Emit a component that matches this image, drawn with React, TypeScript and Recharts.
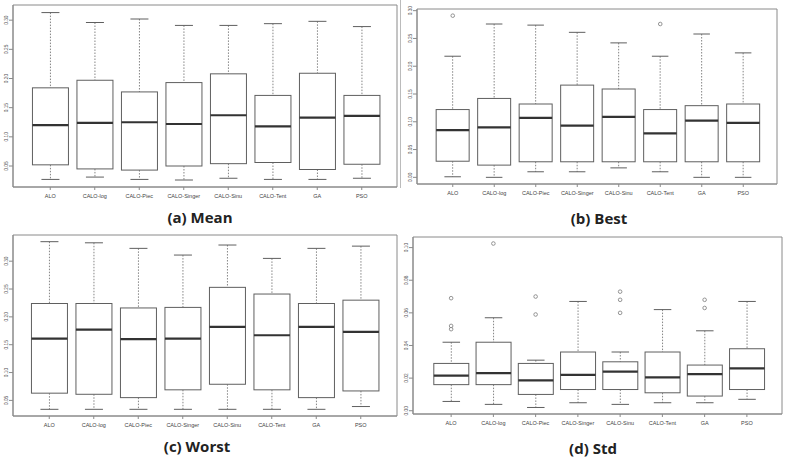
import { ComposedChart, Bar, Scatter, XAxis, YAxis, CartesianGrid } from "recharts";

const algorithms = [
  "ALO",
  "CALO-log",
  "CALO-Piec",
  "CALO-Singer",
  "CALO-Sinu",
  "CALO-Tent",
  "GA",
  "PSO",
];

// each row: [lower whisker, Q1, median, Q3, upper whisker]
const meanStats = [
  [0.027, 0.052, 0.12, 0.184, 0.313],
  [0.031, 0.045, 0.124, 0.197, 0.296],
  [0.027, 0.043, 0.125, 0.177, 0.302],
  [0.026, 0.05, 0.122, 0.193, 0.291],
  [0.029, 0.054, 0.137, 0.208, 0.291],
  [0.027, 0.056, 0.118, 0.171, 0.294],
  [0.027, 0.044, 0.133, 0.209, 0.298],
  [0.029, 0.053, 0.136, 0.171, 0.289],
];
const bestStats = [
  [0.001, 0.029, 0.085, 0.122, 0.218],
  [0.0, 0.022, 0.09, 0.142, 0.276],
  [0.01, 0.028, 0.107, 0.132, 0.274],
  [0.01, 0.028, 0.093, 0.166, 0.261],
  [0.017, 0.028, 0.109, 0.159, 0.242],
  [0.01, 0.028, 0.079, 0.122, 0.218],
  [0.0, 0.028, 0.102, 0.129, 0.258],
  [0.0, 0.028, 0.098, 0.132, 0.224],
];
const worstStats = [
  [0.034, 0.063, 0.161, 0.224, 0.335],
  [0.034, 0.061, 0.177, 0.224, 0.333],
  [0.034, 0.055, 0.16, 0.216, 0.323],
  [0.034, 0.069, 0.161, 0.217, 0.311],
  [0.034, 0.079, 0.182, 0.253, 0.329],
  [0.034, 0.069, 0.167, 0.241, 0.305],
  [0.034, 0.055, 0.182, 0.224, 0.323],
  [0.039, 0.067, 0.173, 0.23, 0.327],
];
const stdStats = [
  [0.0057, 0.016, 0.0215, 0.029, 0.042],
  [0.0039, 0.016, 0.023, 0.042, 0.057],
  [0.002, 0.01, 0.0186, 0.029, 0.031],
  [0.0049, 0.013, 0.022, 0.036, 0.067],
  [0.0039, 0.013, 0.024, 0.03, 0.036],
  [0.0049, 0.011, 0.0205, 0.036, 0.062],
  [0.0049, 0.009, 0.0225, 0.028, 0.049],
  [0.007, 0.013, 0.026, 0.038, 0.067],
];

const meanOutliers = [[], [], [], [], [], [], [], []];
const bestOutliers = [[0.291], [], [], [], [], [0.276], [], []];
const worstOutliers = [[], [], [], [], [], [], [], []];
const stdOutliers = [
  [0.069, 0.052, 0.05],
  [0.1025],
  [0.07, 0.059],
  [],
  [0.073, 0.068, 0.06],
  [],
  [0.068, 0.063],
  [],
];

const meanTicks = [0.05, 0.1, 0.15, 0.2, 0.25, 0.3];
const bestTicks = [0, 0.05, 0.1, 0.15, 0.2, 0.25, 0.3];
const worstTicks = [0.05, 0.1, 0.15, 0.2, 0.25, 0.3];
const stdTicks = [0, 0.02, 0.04, 0.06, 0.08, 0.1];

const FRAME = "#8a8a8a";
const BOX = "#5f5f5f";
const TEXT = "#555";

function buildRows(stats: number[][], outliers: number[][]) {
  return algorithms.map((name, i) => {
    const [low, q1, med, q3, high] = stats[i];
    const o = outliers[i];
    return {
      name,
      range: [low, high],
      low,
      q1,
      med,
      q3,
      high,
      out0: o[0] ?? null,
      out1: o[1] ?? null,
      out2: o[2] ?? null,
    };
  });
}

// box + whiskers, positioned inside the [low, high] range bar that the y scale produced
function BoxShape(props: any) {
  const { x, y, width, height, payload } = props;
  if (payload == null || !isFinite(y) || !isFinite(height)) return <g />;
  const top = Math.min(y, y + height);
  const bottom = Math.max(y, y + height);
  const span = payload.high - payload.low;
  const py = (v: number) => bottom - ((v - payload.low) / span) * (bottom - top);
  const cx = x + width / 2;
  const cap = width / 4;
  return (
    <g>
      <line x1={cx} x2={cx} y1={py(payload.high)} y2={py(payload.q3)} stroke="#777" strokeWidth={0.9} strokeDasharray="1.5 1.5" />
      <line x1={cx} x2={cx} y1={py(payload.q1)} y2={py(payload.low)} stroke="#777" strokeWidth={0.9} strokeDasharray="1.5 1.5" />
      <line x1={cx - cap} x2={cx + cap} y1={py(payload.high)} y2={py(payload.high)} stroke={BOX} strokeWidth={1} />
      <line x1={cx - cap} x2={cx + cap} y1={py(payload.low)} y2={py(payload.low)} stroke={BOX} strokeWidth={1} />
      <rect x={x} y={py(payload.q3)} width={width} height={py(payload.q1) - py(payload.q3)} fill="#fff" stroke={BOX} strokeWidth={1} />
      <line x1={x} x2={x + width} y1={py(payload.med)} y2={py(payload.med)} stroke="#333" strokeWidth={2.2} />
    </g>
  );
}

function OutlierDot(props: any) {
  const { cx, cy } = props;
  if (cx == null || cy == null || !isFinite(cx) || !isFinite(cy)) return <g />;
  return <circle cx={cx} cy={cy} r={1.8} fill="none" stroke="#888" strokeWidth={0.9} />;
}

function YTick(props: any) {
  const { x, y, payload } = props;
  return (
    <text
      x={x}
      y={y}
      transform={`rotate(-90 ${x} ${y})`}
      textAnchor="middle"
      fontSize={4.8}
      fill={TEXT}
      fontFamily="Liberation Sans, Arial, sans-serif"
    >
      {Number(payload.value).toFixed(2)}
    </text>
  );
}

function XTick(props: any) {
  const { x, y, payload } = props;
  return (
    <text
      x={x}
      y={y + 6}
      textAnchor="middle"
      fontSize={5.5}
      fill="#444"
      fontFamily="Liberation Sans, Arial, sans-serif"
    >
      {payload.value}
    </text>
  );
}

// plot frame: only the outer edges of the plotting area
const frameRows = ({ offset }: any) => [offset.top, offset.top + offset.height];
const frameCols = ({ offset }: any) => [offset.left, offset.left + offset.width];

type PanelProps = {
  left: number;
  top: number;
  width: number;
  height: number;
  margin: { top: number; right: number; bottom: number; left: number };
  yWidth: number;
  domain: [number, number];
  ticks: number[];
  pad: { left: number; right: number };
  stats: number[][];
  outliers: number[][];
  gap: string;
  title: string;
  titleX: number;
  titleY: number;
};

function BoxPanel(p: PanelProps) {
  const rows = buildRows(p.stats, p.outliers);
  return (
    <div style={{ position: "absolute", left: p.left, top: p.top, width: p.width, height: p.height }}>
      <ComposedChart width={p.width} height={p.height} data={rows} margin={p.margin} barCategoryGap={p.gap}>
        <CartesianGrid
          stroke={FRAME}
          strokeWidth={1}
          horizontalCoordinatesGenerator={frameRows}
          verticalCoordinatesGenerator={frameCols}
        />
        <XAxis
          dataKey="name"
          type="category"
          height={20}
          padding={p.pad}
          tick={<XTick />}
          tickSize={3}
          tickLine={{ stroke: FRAME }}
          axisLine={{ stroke: FRAME }}
          interval={0}
        />
        <YAxis
          type="number"
          width={p.yWidth}
          domain={p.domain}
          allowDataOverflow
          ticks={p.ticks}
          tick={<YTick />}
          tickSize={4}
          tickMargin={1}
          tickLine={{ stroke: FRAME }}
          axisLine={{ stroke: FRAME }}
        />
        <Bar dataKey="range" shape={<BoxShape />} isAnimationActive={false} />
        <Scatter dataKey="out0" shape={<OutlierDot />} isAnimationActive={false} />
        <Scatter dataKey="out1" shape={<OutlierDot />} isAnimationActive={false} />
        <Scatter dataKey="out2" shape={<OutlierDot />} isAnimationActive={false} />
      </ComposedChart>
      <div
        style={{
          position: "absolute",
          left: p.titleX - 80,
          top: p.titleY - 11,
          width: 160,
          textAlign: "center",
          fontFamily: "'Open Sans', 'Noto Sans', sans-serif",
          fontWeight: 700,
          fontSize: 15,
          lineHeight: "22px",
          color: "#222",
        }}
      >
        {p.title}
      </div>
    </div>
  );
}

export default function App() {
  return (
    <div style={{ position: "absolute", left: 0, top: 0, width: 798, height: 466, background: "#fff", overflow: "hidden" }}>
      <BoxPanel
        left={0}
        top={0}
        width={400}
        height={230}
        margin={{ top: 5, right: 3, bottom: 23, left: 0 }}
        yWidth={13}
        domain={[0.014, 0.326]}
        ticks={meanTicks}
        pad={{ left: 15, right: 13 }}
        stats={meanStats}
        outliers={meanOutliers}
        gap="10%"
        title="(a) Mean"
        titleX={200}
        titleY={217}
      />
      <div style={{ position: "absolute", left: 400, top: 0, width: 0, height: 188, borderLeft: "1px solid #bbb" }} />
      <BoxPanel
        left={400}
        top={0}
        width={398}
        height={230}
        margin={{ top: 9, right: 21, bottom: 26, left: 0 }}
        yWidth={17}
        domain={[-0.012, 0.303]}
        ticks={bestTicks}
        pad={{ left: 15, right: 13 }}
        stats={bestStats}
        outliers={bestOutliers}
        gap="10%"
        title="(b) Best"
        titleX={199}
        titleY={218}
      />
      <BoxPanel
        left={0}
        top={230}
        width={400}
        height={236}
        margin={{ top: 5, right: 3, bottom: 30, left: 0 }}
        yWidth={13}
        domain={[0.022, 0.347]}
        ticks={worstTicks}
        pad={{ left: 14, right: 14 }}
        stats={worstStats}
        outliers={worstOutliers}
        gap="10%"
        title="(c) Worst"
        titleX={197}
        titleY={216}
      />
      <BoxPanel
        left={400}
        top={230}
        width={398}
        height={236}
        margin={{ top: 7, right: 16, bottom: 32, left: 0 }}
        yWidth={13}
        domain={[-0.002, 0.1065]}
        ticks={stdTicks}
        pad={{ left: 17, right: 14 }}
        stats={stdStats}
        outliers={stdOutliers}
        gap="9%"
        title="(d) Std"
        titleX={193}
        titleY={218}
      />
    </div>
  );
}
